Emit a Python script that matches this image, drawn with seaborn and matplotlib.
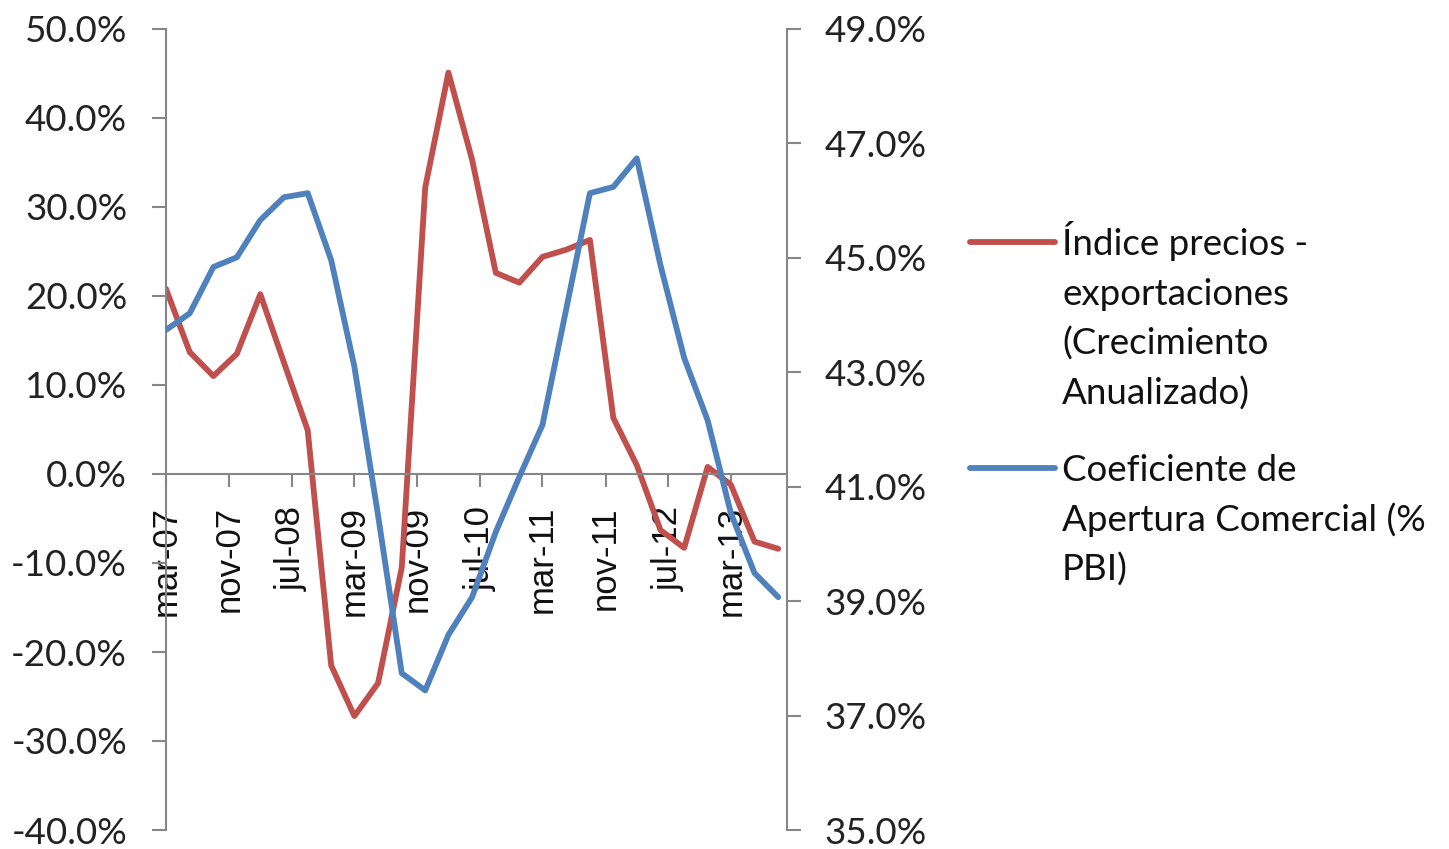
import pandas as pd
import matplotlib
matplotlib.use("Agg")
import matplotlib.pyplot as plt
from matplotlib.lines import Line2D
from matplotlib.ticker import FuncFormatter, FixedLocator, FixedFormatter
import seaborn as sns

# quarterly series, mar-07 .. sep-13
quarters = pd.date_range("2007-03-01", "2013-09-01", freq="3MS")
precios_export = [20.8, 13.7, 11.0, 13.5, 20.2, 12.5, 4.9, -21.5, -27.2, -23.5,
                  -10.5, 32.2, 45.1, 35.3, 22.6, 21.5, 24.4, 25.2, 26.3, 6.3,
                  1.0, -6.3, -8.3, 0.8, -1.2, -7.6, -8.4]
apertura = [43.74, 44.03, 44.84, 45.01, 45.66, 46.06, 46.13, 44.96, 43.1, 40.5,
            37.74, 37.44, 38.41, 39.07, 40.21, 41.17, 42.08, 44.10, 46.13, 46.24,
            46.74, 44.87, 43.25, 42.16, 40.54, 39.49, 39.07]

tick_dates = pd.date_range("2007-03-01", periods=10, freq="8MS")
tick_labels = ["mar-07", "nov-07", "jul-08", "mar-09", "nov-09",
               "jul-10", "mar-11", "nov-11", "jul-12", "mar-13"]
left_ticks = [-40, -30, -20, -10, 0, 10, 20, 30, 40, 50]
right_ticks = [35, 37, 39, 41, 43, 45, 47, 49]

legend_labels = ["Índice precios -\nexportaciones\n(Crecimiento\nAnualizado)",
                 "Coeficiente de\nApertura Comercial (%\nPBI)"]

RED = "#C0504D"
BLUE = "#4F81BD"
AXIS = "#868686"
LW = 4.2

sns.set_style("white")
plt.rcParams["font.family"] = ["Lato", "DejaVu Sans"]

W, H = 1449, 849
fig = plt.figure(figsize=(W / 100, H / 100), dpi=100)
ax = fig.add_axes([166 / W, 1 - 830 / H, (787 - 166) / W, (830 - 29) / H])

sns.lineplot(x=quarters, y=precios_export, ax=ax, color=RED, linewidth=LW,
             solid_joinstyle="round", solid_capstyle="round")
ax2 = ax.twinx()
sns.lineplot(x=quarters, y=apertura, ax=ax2, color=BLUE, linewidth=LW,
             solid_joinstyle="round", solid_capstyle="round")

ax.set_xlim(pd.Timestamp("2007-03-01"), pd.Timestamp("2013-10-05"))
ax.set_ylim(-40, 50)
ax2.set_ylim(35, 49)
ax.set_yticks(left_ticks)
ax2.set_yticks(right_ticks)
pct = FuncFormatter(lambda v, p: f"{v:.1f}%")
ax.yaxis.set_major_formatter(pct)
ax2.yaxis.set_major_formatter(pct)
ax.xaxis.set_major_locator(FixedLocator(matplotlib.dates.date2num(tick_dates)))
ax.xaxis.set_major_formatter(FixedFormatter(tick_labels))
ax.set_xlabel("")
ax.set_ylabel("")
ax2.set_ylabel("")
ax.set_axisbelow(True)

# excel-like axes: x axis crosses at 0
for s in ["top", "right"]:
    ax.spines[s].set_visible(False)
for s in ["top", "bottom", "left"]:
    ax2.spines[s].set_visible(False)
ax.spines["bottom"].set_position(("data", 0))
for sp in [ax.spines["left"], ax.spines["bottom"], ax2.spines["right"]]:
    sp.set_color(AXIS)
    sp.set_linewidth(1.5)

ax.tick_params(axis="y", direction="out", length=10, width=1.5, color=AXIS,
               pad=18, labelsize=26.5, labelcolor="#222222", left=True)
ax.tick_params(axis="x", direction="out", length=9, width=1.5, color=AXIS,
               pad=14, labelcolor="#111111", bottom=True, labelrotation=90,
               labelsize=25, labelfontfamily="Liberation Sans")
ax2.tick_params(axis="y", direction="out", length=10, width=1.5, color=AXIS,
                pad=17, labelsize=26.5, labelcolor="#222222", right=True)
ax.grid(False)
ax2.grid(False)

# legend, handles aligned to the first line of each label
handle_y = [242, 468]
for color, label, hy in zip([RED, BLUE], legend_labels, handle_y):
    fig.add_artist(Line2D([970 / W, 1055 / W], [1 - hy / H, 1 - hy / H],
                          transform=fig.transFigure, color=color, linewidth=LW,
                          solid_capstyle="round"))
    for k, line in enumerate(label.split("\n")):
        fig.text(1062 / W, 1 - (hy + 13 + 50 * k) / H, line, fontsize=26.5,
                 color="#111111", va="baseline", ha="left")

fig.savefig("out.png", dpi=100)
